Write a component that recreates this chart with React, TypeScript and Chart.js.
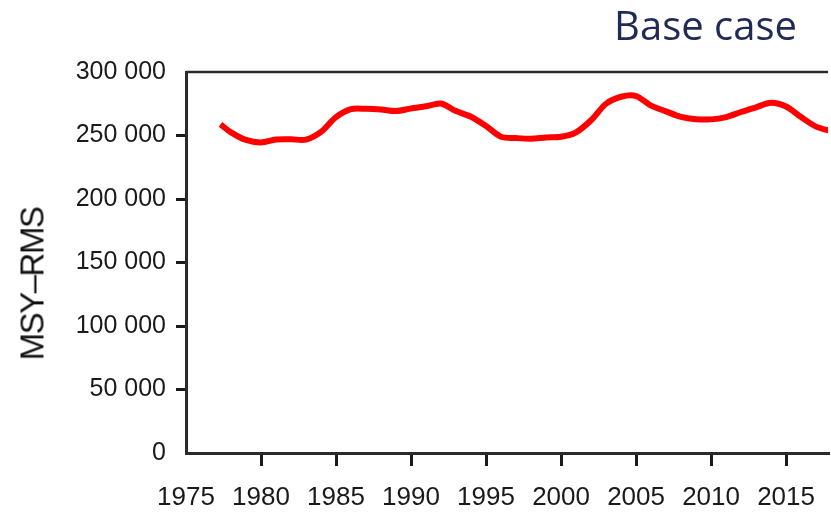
import React, { useEffect, useRef } from 'react';
import { Chart, registerables } from 'chart.js';

Chart.register(...registerables);

// ---- data ----
const years = [
  1977.3, 1978, 1979, 1980, 1981, 1982, 1983, 1984, 1985, 1986, 1987, 1988, 1989,
  1990, 1991, 1992, 1993, 1994, 1995, 1996, 1997, 1998, 1999, 2000, 2001, 2002,
  2003, 2004, 2005, 2006, 2007, 2008, 2009, 2010, 2011, 2012, 2013, 2014, 2015,
  2016, 2017, 2018,
];
const msyValues = [
  258700, 252500, 246500, 244500, 246800, 247000, 246800, 252900, 264500, 270800,
  271000, 270500, 269300, 271300, 273000, 275200, 269200, 264800, 257500, 249000,
  248000, 247500, 248400, 249000, 252500, 262000, 275000, 280500, 281100, 273500,
  269000, 264600, 262800, 262700, 264500, 268500, 272200, 275800, 272800, 264500,
  257000, 253500,
];
const xRange = [1975, 2017.8];
const yRange = [0, 300000];
const yStep = 50000;
const xStep = 5;
const chartTitle = 'Base case';
const yAxisTitle = 'MSY–RMS';

const tickFamily = "'Liberation Sans', Arial, sans-serif";

function formatThousands(v: number): string {
  return String(v).replace(/\B(?=(\d{3})+(?!\d))/g, ' ');
}

const topFramePlugin = {
  id: 'topFrame',
  afterDraw(chart: any) {
    const { ctx, chartArea } = chart;
    ctx.save();
    ctx.strokeStyle = '#2a2a2a';
    ctx.lineWidth = 2.5;
    ctx.beginPath();
    ctx.moveTo(chartArea.left, chartArea.top);
    ctx.lineTo(chartArea.right, chartArea.top);
    ctx.stroke();
    ctx.restore();
  },
};

export default function App() {
  const canvasRef = useRef<HTMLCanvasElement | null>(null);

  useEffect(() => {
    if (!canvasRef.current) return;
    const chart = new Chart(canvasRef.current, {
      type: 'line',
      data: {
        datasets: [
          {
            label: yAxisTitle,
            data: years.map((y, i) => ({ x: y, y: msyValues[i] })),
            borderColor: '#ff0000',
            backgroundColor: '#ff0000',
            borderWidth: 6,
            pointRadius: 0,
            tension: 0.3,
            borderJoinStyle: 'round',
          },
        ],
      },
      options: {
        animation: false,
        responsive: false,
        maintainAspectRatio: false,
        layout: { padding: { top: 72, left: 0, right: 0, bottom: 0 } },
        plugins: {
          legend: { display: false },
          tooltip: { enabled: false },
          title: { display: false },
        },
        scales: {
          x: {
            type: 'linear',
            min: xRange[0],
            max: xRange[1],
            afterFit: (s: any) => {
              s.height = 59;
            },
            ticks: {
              stepSize: xStep,
              includeBounds: false,
              autoSkip: false,
              maxRotation: 0,
              padding: 16,
              color: '#1a1a1a',
              font: { family: tickFamily, size: 26 },
              callback: (v: any) => String(v),
            },
            grid: {
              drawOnChartArea: false,
              drawTicks: true,
              tickLength: 13,
              lineWidth: 3,
              tickWidth: 3,
              color: (c: any) => (c.tick && c.tick.value === xRange[0] ? 'rgba(0,0,0,0)' : '#1a1a1a'),
            },
            border: { display: true, color: '#2a2a2a', width: 3 },
          },
          y: {
            type: 'linear',
            min: yRange[0],
            max: yRange[1],
            afterFit: (s: any) => {
              s.width = 186;
            },
            ticks: {
              stepSize: yStep,
              padding: 10,
              color: '#1a1a1a',
              font: { family: tickFamily, size: 25 },
              callback: (v: any) => formatThousands(Number(v)),
            },
            grid: {
              drawOnChartArea: false,
              drawTicks: true,
              tickLength: 10,
              lineWidth: 3,
              tickWidth: 3,
              color: (c: any) =>
                c.tick && (c.tick.value === yRange[0] || c.tick.value === yRange[1])
                  ? 'rgba(0,0,0,0)'
                  : '#1a1a1a',
            },
            border: { display: true, color: '#2a2a2a', width: 3 },
          },
        },
      },
      plugins: [topFramePlugin],
    });
    return () => chart.destroy();
  }, []);

  return (
    <div
      style={{
        position: 'fixed',
        left: 0,
        top: 0,
        width: 831,
        height: 512,
        overflow: 'hidden',
        background: '#ffffff',
      }}
    >
      <canvas ref={canvasRef} width={831} height={512} style={{ display: 'block' }} />
      <div
        style={{
          position: 'absolute',
          right: 34,
          top: 5,
          fontFamily: "'Open Sans', 'Noto Sans', sans-serif",
          fontSize: 40,
          lineHeight: '40px',
          color: '#1f2b55',
          whiteSpace: 'nowrap',
        }}
      >
        {chartTitle}
      </div>
      <div
        style={{
          position: 'absolute',
          left: 32,
          top: 284,
          transform: 'translate(-50%, -50%) rotate(-90deg)',
          fontFamily: "'Liberation Sans', Arial, sans-serif",
          fontSize: 33,
          letterSpacing: '-1.5px',
          lineHeight: 1,
          color: '#111',
          whiteSpace: 'nowrap',
        }}
      >
        {yAxisTitle}
      </div>
    </div>
  );
}
